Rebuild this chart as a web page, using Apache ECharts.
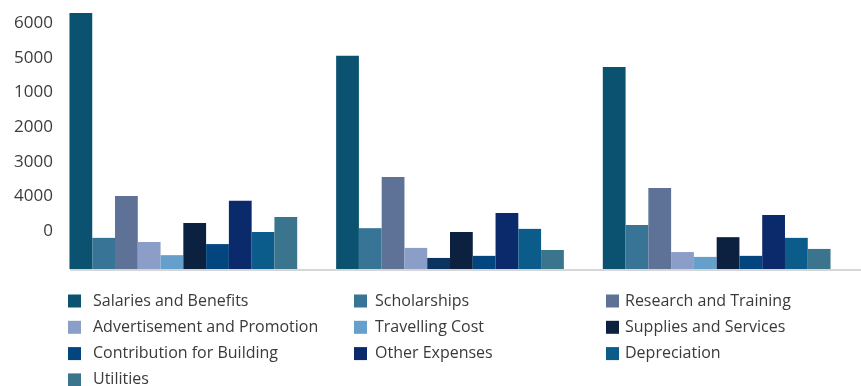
<!DOCTYPE html>
<html>
<head>
<meta charset="utf-8">
<script src="https://cdn.jsdelivr.net/npm/echarts@6/dist/echarts.min.js"></script>
<style>
  html, body { margin: 0; padding: 0; background: #fff; }
  #chart { width: 861px; height: 386px; }
</style>
</head>
<body>
<div id="chart"></div>
<script>
// Three year groups (unnamed on the axis)
const groups = ['A', 'B', 'C'];

// Expense series, one value per group
const salaries      = [7400, 6160, 5840];
const scholarships  = [900, 1180, 1270];
const research      = [2110, 2660, 2340];
const advertisement = [780, 610, 490];
const travelling    = [400, 320, 350];
const supplies      = [1330, 1070, 920];
const contribution  = [720, 380, 380];
const otherExpenses = [1970, 1620, 1560];
const depreciation  = [1070, 1160, 900];
const utilities     = [1500, 550, 580];

// Tick labels as printed on the vertical axis, bottom to top
const tickValues = [0, 1000, 2000, 3000, 4000, 5000, 6000, 7000];
const tickLabels = ['', '0', '4000', '3000', '2000', '1000', '5000', '6000'];

const seriesDefs = [
  { name: 'Salaries and Benefits',        data: salaries,      color: '#0b5270' },
  { name: 'Scholarships',                 data: scholarships,  color: '#387496' },
  { name: 'Research and Training',        data: research,      color: '#5e7298' },
  { name: 'Advertisement and Promotion',  data: advertisement, color: '#8a9ec8' },
  { name: 'Travelling Cost',              data: travelling,    color: '#659fcb', override: { 1: '#0b3461' } },
  { name: 'Supplies and Services',        data: supplies,      color: '#0c2140' },
  { name: 'Contribution for Building',    data: contribution,  color: '#02457f' },
  { name: 'Other Expenses',               data: otherExpenses, color: '#0b2a6b' },
  { name: 'Depreciation',                 data: depreciation,  color: '#0c5c8b' },
  { name: 'Utilities',                    data: utilities,     color: '#3b758d' }
];

// Legend laid out in three columns
const legendCols = [
  ['Salaries and Benefits', 'Advertisement and Promotion', 'Contribution for Building', 'Utilities'],
  ['Scholarships', 'Travelling Cost', 'Other Expenses'],
  ['Research and Training', 'Supplies and Services', 'Depreciation']
];
const legendLeft = [68, 354, 606];
const legendTextPad = [7, 3, 1];

const FONT = '"Open Sans", "Noto Sans", sans-serif';

const chart = echarts.init(document.getElementById('chart'), null, { renderer: 'canvas' });

chart.setOption({
  backgroundColor: '#ffffff',
  animation: false,
  grid: { left: 50, right: 11, top: 9.5, bottom: 117, containLabel: false },
  legend: legendCols.map((names, i) => ({
    data: names,
    orient: 'vertical',
    left: legendLeft[i],
    top: 293,
    height: 140,
    padding: 0,
    icon: 'rect',
    itemWidth: 13,
    itemHeight: 13,
    itemGap: 10.3,
    selectedMode: false,
    textStyle: { fontFamily: FONT, fontSize: 16, color: '#3a3a3a', lineHeight: 16, padding: [0, 0, 0, legendTextPad[i]] }
  })),
  xAxis: {
    type: 'category',
    data: groups,
    axisLine: { show: false },
    axisTick: { show: false },
    axisLabel: { show: false },
    splitLine: { show: false }
  },
  yAxis: {
    type: 'value',
    min: 0,
    max: 7500,
    interval: 1000,
    axisLine: { show: false },
    axisTick: { show: false },
    splitLine: { show: false },
    axisLabel: {
      margin: -3,
      fontFamily: FONT,
      fontSize: 17,
      color: '#3c3c3c',
      verticalAlign: 'bottom',
      lineHeight: 7,
      formatter: v => {
        const i = tickValues.indexOf(v);
        return i >= 0 ? tickLabels[i] : '';
      }
    }
  },
  series: seriesDefs.map(s => ({
    name: s.name,
    type: 'bar',
    barGap: '0%',
    barCategoryGap: '14.6%',
    itemStyle: { color: s.color },
    data: s.data.map((v, i) =>
      s.override && s.override[i] ? { value: v, itemStyle: { color: s.override[i] } } : v)
  })),
  // light baseline under the bars
  graphic: [{
    type: 'rect',
    z: 10,
    shape: { x: 70, y: 269, width: 791, height: 2 },
    style: { fill: '#d6d6d6' }
  }]
});
</script>
</body>
</html>
